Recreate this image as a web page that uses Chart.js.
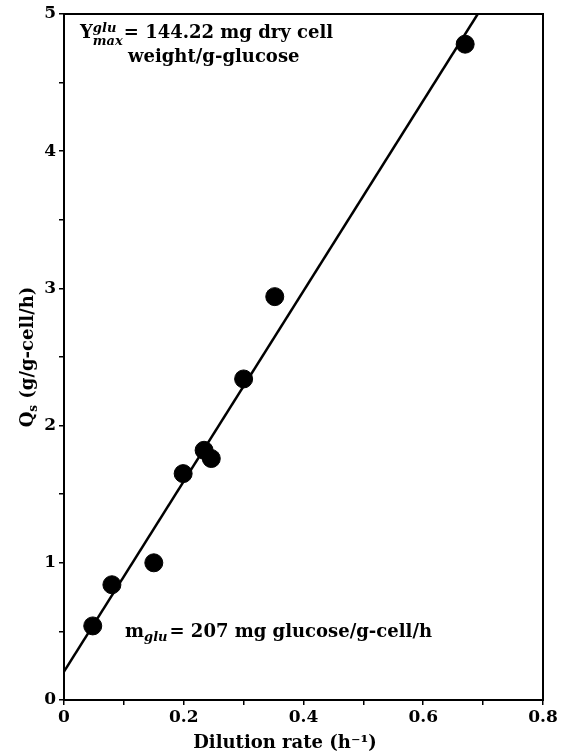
<!DOCTYPE html>
<html>
<head>
<meta charset="utf-8">
<script src="https://cdn.jsdelivr.net/npm/chart.js@4"></script>
<style>
  html, body { margin: 0; padding: 0; background: #fff; }
  #wrap { width: 565px; height: 753px; position: relative; }
</style>
</head>
<body>
<div id="wrap"><canvas id="qsChart"></canvas></div>
<script>
// measured points
const dilutionRate = [0.048, 0.080, 0.150, 0.199, 0.234, 0.246, 0.300, 0.352, 0.670];
const qsValues = [0.54, 0.84, 1.00, 1.65, 1.82, 1.76, 2.34, 2.94, 4.78];

// fitted line endpoints
const fitX = [0, 0.691];
const fitY = [0.207, 5.0];

const xTicks = [0, 0.2, 0.4, 0.6, 0.8];
const yTicks = [0, 1, 2, 3, 4, 5];

const serif = '"DejaVu Serif", "Liberation Serif", serif';

// draws a row of text pieces, each with its own size / offset / style
function drawPieces(ctx, x, y, pieces) {
  let cx = x;
  pieces.forEach(function(p) {
    ctx.font = (p.italic ? 'italic ' : '') + 'bold ' + p.size + 'px ' + serif;
    ctx.fillText(p.text, cx, y + (p.dy || 0));
    if (!p.stack) cx += ctx.measureText(p.text).width + (p.gap || 0);
  });
  return cx;
}

const textPlugin = {
  id: 'figText',
  afterDraw: function(chart) {
    const ctx = chart.ctx;
    const a = chart.chartArea;
    ctx.save();
    ctx.fillStyle = '#000';
    ctx.strokeStyle = '#000';

    // frame
    ctx.lineWidth = 2;
    ctx.strokeRect(a.left, a.top, a.right - a.left, a.bottom - a.top);

    ctx.textBaseline = 'alphabetic';
    ctx.textAlign = 'left';

    // Y^glu_max annotation
    drawPieces(ctx, 80, 38, [
      { text: 'Y', size: 18 },
      { text: 'glu', size: 13, italic: true, dy: -6, stack: true },
      { text: 'max', size: 13, italic: true, dy: 7, gap: 1 },
      { text: '= 144.22 mg dry cell', size: 18 }
    ]);
    drawPieces(ctx, 128, 62, [{ text: 'weight/g-glucose', size: 18 }]);

    // m_glu annotation
    drawPieces(ctx, 125, 637, [
      { text: 'm', size: 18 },
      { text: 'glu', size: 13, italic: true, dy: 4, gap: 2 },
      { text: '= 207 mg glucose/g-cell/h', size: 18 }
    ]);

    // x title
    ctx.font = 'bold 18px ' + serif;
    ctx.textAlign = 'center';
    ctx.fillText('Dilution rate (h\u207B\u00B9)', 285, 748);

    // y title, rotated
    ctx.translate(27, 357);
    ctx.rotate(-Math.PI / 2);
    ctx.font = 'bold 18px ' + serif;
    const w1 = ctx.measureText('Q').width;
    ctx.font = 'bold 12px ' + serif;
    const w2 = ctx.measureText('s').width;
    ctx.font = 'bold 18px ' + serif;
    const w3 = ctx.measureText(' (g/g-cell/h)').width;
    const total = w1 + w2 + w3;
    ctx.textAlign = 'left';
    drawPieces(ctx, -total / 2, 6, [
      { text: 'Q', size: 18 },
      { text: 's', size: 12, dy: 4 },
      { text: ' (g/g-cell/h)', size: 18 }
    ]);
    ctx.restore();
  }
};

const ctx = document.getElementById('qsChart').getContext('2d');

new Chart(ctx, {
  type: 'scatter',
  data: {
    datasets: [
      {
        label: 'Qs',
        data: dilutionRate.map(function(x, i) { return { x: x, y: qsValues[i] }; }),
        backgroundColor: '#000',
        borderColor: '#000',
        pointRadius: 9,
        pointHoverRadius: 9
      },
      {
        label: 'fit',
        type: 'line',
        data: fitX.map(function(x, i) { return { x: x, y: fitY[i] }; }),
        borderColor: '#000',
        borderWidth: 2.5,
        pointRadius: 0,
        fill: false
      }
    ]
  },
  options: {
    responsive: true,
    maintainAspectRatio: false,
    animation: false,
    layout: { padding: { top: 14, right: 22, left: 0, bottom: 0 } },
    plugins: {
      legend: { display: false },
      tooltip: { enabled: false }
    },
    scales: {
      x: {
        type: 'linear',
        min: 0,
        max: 0.8,
        afterFit: function(scale) { scale.height = 53; },
        border: { color: '#000', width: 2 },
        grid: { drawOnChartArea: false, drawTicks: true, tickLength: 5, color: '#000', lineWidth: 1.5 },
        ticks: {
          stepSize: 0.1,
          color: '#000',
          padding: 2,
          maxRotation: 0,
          font: { family: serif, size: 17, weight: 'bold' },
          callback: function(v) {
            const hit = xTicks.find(function(t) { return Math.abs(t - v) < 1e-6; });
            return hit === undefined ? '' : String(hit);
          }
        }
      },
      y: {
        type: 'linear',
        min: 0,
        max: 5,
        afterFit: function(scale) { scale.width = 64; },
        border: { color: '#000', width: 2 },
        grid: { drawOnChartArea: false, drawTicks: true, tickLength: 5, color: '#000', lineWidth: 1.5 },
        ticks: {
          stepSize: 0.5,
          color: '#000',
          padding: 3,
          font: { family: serif, size: 17, weight: 'bold' },
          callback: function(v) {
            const hit = yTicks.find(function(t) { return Math.abs(t - v) < 1e-6; });
            return hit === undefined ? '' : String(hit);
          }
        }
      }
    }
  },
  plugins: [textPlugin]
});
</script>
</body>
</html>
